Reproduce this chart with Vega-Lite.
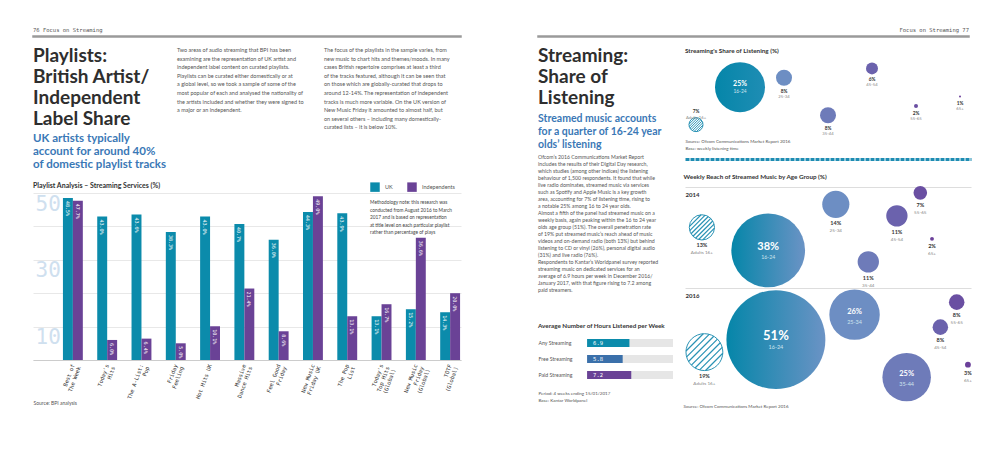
{
  "$schema": "https://vega.github.io/schema/vega-lite/v6.json",
  "background": "#ffffff",
  "padding": {"left": 32, "top": 26, "right": 0, "bottom": 0},
  "config": {
    "view": {"stroke": null},
    "font": "Lato",
    "title": {"anchor": "start", "color": "#333333", "fontWeight": "bold", "font": "Lato"},
    "axis": {"labelFont": "Lato", "titleFont": "Lato"}
  },
  "spacing": 75,
  "resolve": {"scale": {"x": "independent", "y": "independent", "color": "independent", "size": "independent", "yOffset": "independent"}, "legend": {"color": "independent", "size": "independent"}},
  "hconcat": [
    {
      "spacing": 8,
      "resolve": {"scale": {"x": "independent", "y": "independent", "color": "independent", "size": "independent", "yOffset": "independent"}, "legend": {"color": "independent", "size": "independent"}},
      "vconcat": [
        {
          "data": {"values": []},
          "width": 428,
          "height": 1,
          "view": {"stroke": "#9a9a9a", "strokeWidth": 1.5},
          "title": {"text": "76   Focus on Streaming", "font": "DejaVu Sans Mono", "fontSize": 5.5, "fontWeight": "normal", "color": "#555555", "offset": 3},
          "mark": {"type": "text"},
          "encoding": {"text": {"field": "t"}}
        },
        {
          "spacing": 11,
          "resolve": {"scale": {"x": "independent", "y": "independent", "color": "independent"}, "legend": {"color": "independent"}},
          "vconcat": [
            {
              "spacing": 10,
              "hconcat": [
                {
                  "data": {"values": []},
                  "width": 133,
                  "height": 1,
                  "title": {
                    "text": ["Playlists:", "British Artist/", "Independent", "Label Share"],
                    "orient": "bottom", "offset": 0,
                    "fontSize": 19, "lineHeight": 21, "color": "#2e2e2e", "fontWeight": "bold",
                    "subtitle": ["UK artists typically", "account for around 40%", "of domestic playlist tracks"],
                    "subtitleFont": "Lato", "subtitleFontSize": 11.5, "subtitleFontWeight": "bold",
                    "subtitleColor": "#3a78b6", "subtitleLineHeight": 13, "subtitlePadding": 4
                  },
                  "mark": {"type": "text"},
                  "encoding": {"text": {"field": "t"}}
                },
                {
                  "data": {"values": []},
                  "width": 137,
                  "height": 1,
                  "title": {
                    "text": [
                      "Two areas of audio streaming that BPI has been",
                      "examining are the representation of UK artist and",
                      "independent label content on curated playlists.",
                      "Playlists can be curated either domestically or at",
                      "a global level, so we took a sample of some of the",
                      "most popular of each and analysed the nationality of",
                      "the artists included and whether they were signed to",
                      "a major or an independent."
                    ],
                    "orient": "bottom", "offset": 1,
                    "fontSize": 5.5, "lineHeight": 8.6, "fontWeight": "normal", "color": "#555555"
                  },
                  "mark": {"type": "text"},
                  "encoding": {"text": {"field": "t"}}
                },
                {
                  "data": {"values": []},
                  "width": 138,
                  "height": 1,
                  "title": {
                    "text": [
                      "The focus of the playlists in the sample varies, from",
                      "new music to chart hits and themes/moods. In many",
                      "cases British repertoire comprises at least a third",
                      "of the tracks featured, although it can be seen that",
                      "on those which are globally-curated that drops to",
                      "around 12-14%. The representation of independent",
                      "tracks is much more variable. On the UK version of",
                      "New Music Friday it amounted to almost half, but",
                      "on several others – including many domestically-",
                      "curated lists – it is below 10%."
                    ],
                    "orient": "bottom", "offset": 1,
                    "fontSize": 5.5, "lineHeight": 8.6, "fontWeight": "normal", "color": "#555555"
                  },
                  "mark": {"type": "text"},
                  "encoding": {"text": {"field": "t"}}
                }
              ]
            },
            {
              "width": 428,
              "height": 167,
              "title": {"text": "Playlist Analysis – Streaming Services (%)", "fontSize": 7, "offset": -7},
              "data": {"values": [
                {"playlist": "Best of The Week", "series": "UK", "value": 0.485},
                {"playlist": "Best of The Week", "series": "Independents", "value": 0.477},
                {"playlist": "Today's Hits", "series": "UK", "value": 0.430},
                {"playlist": "Today's Hits", "series": "Independents", "value": 0.060},
                {"playlist": "The A-List: Pop", "series": "UK", "value": 0.436},
                {"playlist": "The A-List: Pop", "series": "Independents", "value": 0.064},
                {"playlist": "Friday Feeling", "series": "UK", "value": 0.383},
                {"playlist": "Friday Feeling", "series": "Independents", "value": 0.050},
                {"playlist": "Hot Hits UK", "series": "UK", "value": 0.430},
                {"playlist": "Hot Hits UK", "series": "Independents", "value": 0.101},
                {"playlist": "Massive Dance Hits", "series": "UK", "value": 0.407},
                {"playlist": "Massive Dance Hits", "series": "Independents", "value": 0.214},
                {"playlist": "Feel Good Friday", "series": "UK", "value": 0.360},
                {"playlist": "Feel Good Friday", "series": "Independents", "value": 0.086},
                {"playlist": "New Music Friday UK", "series": "UK", "value": 0.443},
                {"playlist": "New Music Friday UK", "series": "Independents", "value": 0.490},
                {"playlist": "The Pop List", "series": "UK", "value": 0.439},
                {"playlist": "The Pop List", "series": "Independents", "value": 0.131},
                {"playlist": "Today's Top Hits (Global)", "series": "UK", "value": 0.131},
                {"playlist": "Today's Top Hits (Global)", "series": "Independents", "value": 0.167},
                {"playlist": "New Music Friday (Global)", "series": "UK", "value": 0.152},
                {"playlist": "New Music Friday (Global)", "series": "Independents", "value": 0.366},
                {"playlist": "TOTF (Global)", "series": "UK", "value": 0.143},
                {"playlist": "TOTF (Global)", "series": "Independents", "value": 0.200}
              ]},
              "encoding": {
                "x": {
                  "field": "playlist", "type": "nominal", "sort": null,
                  "scale": {"paddingInner": 0.42, "paddingOuter": 0.45, "align": 0.97},
                  "axis": {
                    "title": "Source: BPI analysis",
                    "titleAnchor": "start", "titleAlign": "left", "titleX": 0, "titleY": 42, "titleBaseline": "middle",
                    "titleFontSize": 5, "titleFontWeight": "normal", "titleColor": "#555555",
                    "labelAngle": -70, "labelFont": "DejaVu Sans Mono", "labelFontSize": 5.5, "labelColor": "#333333",
                    "labelLineHeight": 6.5, "labelPadding": 4, "ticks": false, "domainColor": "#cccccc",
                    "labelExpr": "{'Best of The Week': ['Best of', 'The Week'], \"Today's Hits\": [\"Today's\", 'Hits'], 'The A-List: Pop': ['The A-List:', 'Pop'], 'Friday Feeling': ['Friday', 'Feeling'], 'Hot Hits UK': 'Hot Hits UK', 'Massive Dance Hits': ['Massive', 'Dance Hits'], 'Feel Good Friday': ['Feel Good', 'Friday'], 'New Music Friday UK': ['New Music', 'Friday UK'], 'The Pop List': ['The Pop', 'List'], \"Today's Top Hits (Global)\": [\"Today's\", 'Top Hits', '(Global)'], 'New Music Friday (Global)': ['New Music', 'Friday', '(Global)'], 'TOTF (Global)': ['TOTF', '(Global)']}[datum.label]"
                  }
                },
                "xOffset": {"field": "series", "type": "nominal", "sort": ["UK", "Independents"], "scale": {"paddingInner": 0}},
                "y": {
                  "field": "value", "type": "quantitative",
                  "scale": {"domain": [0, 0.5]},
                  "axis": {
                    "title": null, "values": [0, 0.1, 0.2, 0.3, 0.4, 0.5],
                    "grid": true, "gridColor": "#e8e8e8", "domain": false, "ticks": false,
                    "labelOverlap": false, "labelBound": false, "labelFlush": false,
                    "labelExpr": "datum.value == 0.1 || datum.value == 0.3 || datum.value == 0.5 ? format(datum.value * 100, 'd') : ''",
                    "labelAlign": "left", "labelBaseline": "top", "labelPadding": -2,
                    "labelFont": "DejaVu Sans Mono", "labelFontSize": 21, "labelColor": "#cfe0ef"
                  }
                }
              },
              "layer": [
                {
                  "mark": {"type": "bar"},
                  "encoding": {
                    "color": {
                      "field": "series", "type": "nominal",
                      "scale": {"domain": ["UK", "Independents"], "range": ["#0b8bab", "#6a4296"]},
                      "legend": {
                        "title": ["Methodology note: this research was", "conducted from August 2016 to March", "2017 and is based on representation", "at title level on each particular playlist", "rather than percentage of plays"],
                        "titleOrient": "bottom", "titleAnchor": "start", "titleFontSize": 4.8, "titleFontWeight": "normal", "titleColor": "#444444",
                        "titleLineHeight": 7.6, "titlePadding": 8, "titleLimit": 300, "titleFont": "Lato",
                        "orient": "none", "legendX": 337, "legendY": -11, "direction": "horizontal",
                        "symbolType": "square", "symbolSize": 90, "symbolStrokeWidth": 0, "labelFontSize": 5.5, "labelColor": "#555555", "columnPadding": 14, "labelOffset": 5
                      }
                    }
                  }
                },
                {
                  "mark": {"type": "text", "angle": 90, "align": "left", "baseline": "middle", "dx": 3, "font": "DejaVu Sans Mono", "fontSize": 5, "color": "#ffffff"},
                  "encoding": {
                    "text": {"field": "value", "type": "quantitative", "format": ".1%"}
                  }
                }
              ]
            }
          ]
        }
      ]
    },
    {
      "spacing": 8,
      "resolve": {"scale": {"x": "independent", "y": "independent", "color": "independent", "size": "independent", "yOffset": "independent"}, "legend": {"color": "independent", "size": "independent"}},
      "vconcat": [
        {
          "data": {"values": []},
          "width": 431,
          "height": 1,
          "view": {"stroke": "#9a9a9a", "strokeWidth": 1.5},
          "title": {"text": "Focus on Streaming   77", "anchor": "end", "font": "DejaVu Sans Mono", "fontSize": 5.5, "fontWeight": "normal", "color": "#555555", "offset": 3},
          "mark": {"type": "text"},
          "encoding": {"text": {"field": "t"}}
        },
        {
          "spacing": 10,
          "resolve": {"scale": {"x": "independent", "y": "independent", "color": "independent", "size": "independent", "yOffset": "independent"}, "legend": {"color": "independent", "size": "independent"}},
          "hconcat": [
            {
              "spacing": 14,
              "resolve": {"scale": {"x": "independent", "y": "independent", "color": "independent"}, "legend": {"color": "independent"}},
              "vconcat": [
                {
                  "spacing": 2,
                  "vconcat": [
                    {
                      "data": {"values": []},
                      "width": 135,
                      "height": 1,
                      "title": {
                        "text": ["Streaming:", "Share of", "Listening"],
                        "orient": "bottom", "offset": 0,
                        "fontSize": 19, "lineHeight": 21, "color": "#2e2e2e", "fontWeight": "bold",
                        "subtitle": ["Streamed music accounts", "for a quarter of 16-24 year", "olds’ listening"],
                        "subtitleFont": "Lato", "subtitleFontSize": 10.5, "subtitleFontWeight": "bold",
                        "subtitleColor": "#3a78b6", "subtitleLineHeight": 13, "subtitlePadding": 6
                      },
                      "mark": {"type": "text"},
                      "encoding": {"text": {"field": "t"}}
                    },
                    {
                      "data": {"values": []},
                      "width": 135,
                      "height": 1,
                      "title": {
                        "text": [
                          "Ofcom’s 2016 Communications Market Report",
                          "includes the results of their Digital Day research,",
                          "which studies (among other indices) the listening",
                          "behaviour of 1,500 respondents. It found that while",
                          "live radio dominates, streamed music via services",
                          "such as Spotify and Apple Music is a key growth",
                          "area, accounting for 7% of listening time, rising to",
                          "a notable 25% among 16 to 24 year olds.",
                          " ",
                          "Almost a fifth of the panel had streamed music on a",
                          "weekly basis, again peaking within the 16 to 24 year",
                          "olds age group (51%). The overall penetration rate",
                          "of 19% put streamed music’s reach ahead of music",
                          "videos and on-demand radio (both 13%) but behind",
                          "listening to CD or vinyl (26%), personal digital audio",
                          "(31%) and live radio (76%).",
                          " ",
                          "Respondents to Kantar’s Worldpanel survey reported",
                          "streaming music on dedicated services for an",
                          "average of 6.9 hours per week in December 2016/",
                          "January 2017, with that figure rising to 7.2 among",
                          "paid streamers."
                        ],
                        "orient": "bottom", "offset": 1,
                        "fontSize": 5.2, "lineHeight": 7.0, "fontWeight": "normal", "color": "#555555"
                      },
                      "mark": {"type": "text"},
                      "encoding": {"text": {"field": "t"}}
                    }
                  ]
                },
                {
                  "width": 135,
                  "height": 48,
                  "title": {"text": "Average Number of Hours Listened per Week", "fontSize": 6.3, "offset": 6},
                  "data": {"values": [
                    {"type": "Any Streaming", "hours": 6.9},
                    {"type": "Free Streaming", "hours": 5.8},
                    {"type": "Paid Streaming", "hours": 7.2}
                  ]},
                  "encoding": {
                    "y": {
                      "field": "type", "type": "nominal", "sort": null,
                      "scale": {"paddingInner": 0.5, "paddingOuter": 0.25},
                      "axis": {"title": null, "domain": false, "ticks": false, "labelAlign": "left", "labelPadding": 0, "labelFontSize": 5.2, "labelColor": "#555555"}
                    }
                  },
                  "layer": [
                    {
                      "mark": {"type": "bar", "color": "#e6e6e6"},
                      "encoding": {"x": {"datum": 14, "type": "quantitative", "scale": {"domain": [-6.04, 14]}, "axis": {
                        "labels": false, "ticks": false, "domain": false, "grid": false,
                        "title": ["Period: 4 weeks ending 15/01/2017", "Base: Kantar Worldpanel"],
                        "titleAnchor": "start", "titleAlign": "left", "titleX": 0, "titleY": 7, "titleBaseline": "top",
                        "titleFontSize": 4.5, "titleFontWeight": "normal", "titleColor": "#555555", "titleLineHeight": 7
                      }}}
                    },
                    {
                      "mark": {"type": "bar"},
                      "encoding": {
                        "x": {"field": "hours", "type": "quantitative"},
                        "color": {"field": "type", "type": "nominal", "scale": {"domain": ["Any Streaming", "Free Streaming", "Paid Streaming"], "range": ["#0b8bab", "#3b70aa", "#6a4296"]}, "legend": null}
                      }
                    },
                    {
                      "mark": {"type": "text", "align": "left", "dx": 6, "font": "DejaVu Sans Mono", "fontSize": 5.5, "color": "#ffffff"},
                      "encoding": {
                        "x": {"datum": 0, "type": "quantitative"},
                        "text": {"field": "hours", "type": "quantitative", "format": ".1f"}
                      }
                    }
                  ]
                }
              ]
            },
            {
              "spacing": 14,
              "resolve": {"scale": {"x": "independent", "y": "independent", "color": "independent", "size": "independent", "yOffset": "independent"}, "legend": {"color": "independent", "size": "independent"}},
              "vconcat": [
                {
                  "spacing": 4,
                  "vconcat": [
                    {
                      "data": {"values": []},
                      "width": 286,
                      "height": 1,
                      "title": {"text": "Streaming's Share of Listening (%)", "orient": "bottom", "offset": 1, "fontSize": 6.3},
                      "mark": {"type": "text"},
                      "encoding": {"text": {"field": "t"}}
                    },
                    {
                      "width": 286,
                      "height": 75,
                      "resolve": {"scale": {"yOffset": "independent"}},
                      "data": {"values": [
                        {"age": "Adults 16+", "value": 0.07},
                        {"age": "16-24", "value": 0.25},
                        {"age": "25-34", "value": 0.08},
                        {"age": "35-44", "value": 0.08},
                        {"age": "45-54", "value": 0.06},
                        {"age": "55-65", "value": 0.02},
                        {"age": "65+", "value": 0.01}
                      ]},
                      "encoding": {
                        "x": {
                          "field": "age", "type": "nominal",
                          "scale": {"type": "point", "domain": ["Adults 16+", "16-24", "25-34", "35-44", "45-54", "55-65", "65+"], "padding": 0.25},
                          "axis": {
                            "orient": "bottom", "offset": 25, "labels": false, "ticks": false, "grid": false,
                            "domainColor": "#1e8db3", "domainWidth": 3, "domainDash": [4, 1],
                            "title": ["Source: Ofcom Communications Market Report 2016", "Base: weekly listening time"],
                            "titleAnchor": "start", "titleAlign": "left", "titleX": 0, "titleY": -21, "titleBaseline": "top",
                            "titleFontSize": 4.5, "titleFontWeight": "normal", "titleColor": "#555555", "titleLineHeight": 7
                          }
                        },
                        "y": {
                          "field": "age", "type": "nominal",
                          "scale": {"type": "point", "domain": ["45-54", "25-34", "16-24", "65+", "55-65", "35-44", "Adults 16+"], "padding": 2.3, "align": 0.5},
                          "axis": null
                        }
                      },
                      "layer": [
                        {
                          "transform": [{"filter": "datum.age != 'Adults 16+' && datum.age != '16-24'"}],
                          "mark": {"type": "point", "filled": true, "opacity": 1, "strokeWidth": 0},
                          "encoding": {
                            "size": {"field": "value", "type": "quantitative", "scale": {"type": "pow", "exponent": 2, "domain": [0, 0.25], "range": [0, 2500]}, "legend": null},
                            "color": {"field": "age", "type": "nominal", "scale": {"domain": ["Adults 16+", "16-24", "25-34", "35-44", "45-54", "55-65", "65+"], "range": ["#ffffff", "#1589ad", "#6d8ec3", "#6e7bb9", "#6b62ad", "#6a4fa2", "#6b409a"]}, "legend": null}
                          }
                        },
                        {
                          "transform": [{"filter": "datum.age == '16-24'"}],
                          "mark": {"type": "point", "filled": true, "opacity": 1, "strokeWidth": 0, "fill": {"gradient": "linear", "stops": [{"offset": 0, "color": "#0586a9"}, {"offset": 1, "color": "#1f8db4"}]}},
                          "encoding": {
                            "size": {"field": "value", "type": "quantitative", "scale": {"type": "pow", "exponent": 2, "domain": [0, 0.25], "range": [0, 2500]}, "legend": null}
                          }
                        },
                        {
                          "transform": [{"filter": "datum.age == 'Adults 16+'"}],
                          "mark": {"type": "point", "filled": true, "opacity": 1, "fill": "#ffffff", "stroke": "#2a93b5", "strokeWidth": 1},
                          "encoding": {
                            "size": {"field": "value", "type": "quantitative", "scale": {"type": "pow", "exponent": 2, "domain": [0, 0.25], "range": [0, 2500]}, "legend": null}
                          }
                        },
                        {
                          "transform": [{"filter": "datum.age == 'Adults 16+'"}],
                          "mark": {"type": "point", "filled": false, "opacity": 1, "color": "#2a93b5", "strokeWidth": 1,
                            "shape": "M-0.707,0.707L0.707,-0.707M-0.508,0.862L0.862,-0.508M-0.862,0.508L0.508,-0.862M-0.258,0.966L0.966,-0.258M-0.966,0.258L0.258,-0.966M0.062,0.998L0.998,0.062M-0.998,-0.062L-0.062,-0.998"},
                          "encoding": {
                            "size": {"field": "value", "type": "quantitative", "scale": {"type": "pow", "exponent": 2, "domain": [0, 0.25], "range": [0, 2500]}, "legend": null}
                          }
                        },
                        {
                          "transform": [{"filter": "datum.value >= 0.2 && datum.age != 'Adults 16+'"}],
                          "mark": {"type": "text", "fontWeight": "bold", "fontSize": 7, "color": "#ffffff", "dy": -3},
                          "encoding": {"text": {"field": "value", "type": "quantitative", "format": ".0%"}}
                        },
                        {
                          "transform": [{"filter": "datum.value >= 0.2 && datum.age != 'Adults 16+'"}],
                          "mark": {"type": "text", "fontSize": 4.8, "color": "#cfe4ee", "dy": 5},
                          "encoding": {"text": {"field": "age"}}
                        },
                        {
                          "transform": [{"filter": "datum.value < 0.2 && datum.age != 'Adults 16+'"}],
                          "mark": {"type": "text", "fontWeight": "bold", "fontSize": 4.8, "color": "#333333", "baseline": "top"},
                          "encoding": {
                            "yOffset": {"field": "value", "type": "quantitative", "scale": {"domain": [0, 0.25], "range": [3, 28]}},
                            "text": {"field": "value", "type": "quantitative", "format": ".0%"}
                          }
                        },
                        {
                          "transform": [{"filter": "datum.value < 0.2 && datum.age != 'Adults 16+'"}],
                          "mark": {"type": "text", "fontSize": 4.2, "color": "#888888", "baseline": "top", "dy": 6},
                          "encoding": {
                            "yOffset": {"field": "value", "type": "quantitative", "scale": {"domain": [0, 0.25], "range": [3, 28]}},
                            "text": {"field": "age"}
                          }
                        },
                        {
                          "transform": [{"filter": "datum.age == 'Adults 16+'"}],
                          "mark": {"type": "text", "fontWeight": "bold", "fontSize": 4.8, "color": "#333333", "baseline": "bottom", "dy": -11},
                          "encoding": {
                            "text": {"field": "value", "type": "quantitative", "format": ".0%"}
                          }
                        },
                        {
                          "transform": [{"filter": "datum.age == 'Adults 16+'"}],
                          "mark": {"type": "text", "fontSize": 4.2, "color": "#888888", "baseline": "bottom", "dy": -5},
                          "encoding": {
                            "text": {"field": "age"}
                          }
                        }
                      ]
                    }
                  ]
                },
                {
                  "title": {"text": "Weekly Reach of Streamed Music by Age Group (%)", "fontSize": 6.3, "offset": 6},
                  "data": {"values": [
                    {"year": "2014", "age": "Adults 16+", "value": 0.13},
                    {"year": "2014", "age": "16-24", "value": 0.38},
                    {"year": "2014", "age": "25-34", "value": 0.14},
                    {"year": "2014", "age": "35-44", "value": 0.11},
                    {"year": "2014", "age": "45-54", "value": 0.11},
                    {"year": "2014", "age": "55-65", "value": 0.07},
                    {"year": "2014", "age": "65+", "value": 0.02},
                    {"year": "2016", "age": "Adults 16+", "value": 0.19},
                    {"year": "2016", "age": "16-24", "value": 0.51},
                    {"year": "2016", "age": "25-34", "value": 0.26},
                    {"year": "2016", "age": "35-44", "value": 0.25},
                    {"year": "2016", "age": "45-54", "value": 0.08},
                    {"year": "2016", "age": "55-65", "value": 0.08},
                    {"year": "2016", "age": "65+", "value": 0.03}
                  ]},
                  "transform": [{"stack": "value", "groupby": ["year"], "as": ["x0", "x1"]}],
                  "resolve": {"scale": {"x": "independent", "y": "independent", "color": "independent", "size": "independent", "yOffset": "independent"}, "legend": {"color": "independent", "size": "independent"}},
                  "spacing": -11,
                  "vconcat": [
                    {
                      "width": 286,
                      "height": 92,
                      "transform": [{"filter": "datum.year == '2014'"}],
                      "encoding": {
                        "y": {
                          "field": "age", "type": "nominal",
                          "scale": {"type": "point", "domain": ["55-65", "25-34", "45-54", "Adults 16+", "65+", "16-24", "35-44"], "padding": 3.13, "align": 0.255},
                          "axis": null
                        }
                      },
                      "layer": [
                        {
                          "transform": [{"filter": "datum.age != 'Adults 16+' && datum.age != '16-24'"}],
                          "mark": {"type": "point", "filled": true, "opacity": 1, "strokeWidth": 0},
                          "encoding": {
                            "x": {
                              "field": "x0", "type": "quantitative", "bin": "binned", "bandPosition": 0.5,
                              "scale": {"domain": [0, 1.04]},
                              "axis": {
                                "orient": "top", "labels": false, "ticks": false, "grid": false, "domainColor": "#dddddd", "domainWidth": 1,
                                "title": "2014", "titleAnchor": "start", "titleAlign": "left", "titleX": 0, "titleY": 4, "titleBaseline": "top",
                                "titleFontSize": 6, "titleColor": "#333333"
                              }
                            },
                            "x2": {"field": "x1"},
                            "size": {"field": "value", "type": "quantitative", "scale": {"type": "pow", "exponent": 2, "domain": [0, 0.51], "range": [0, 9788]}, "legend": null},
                            "color": {"field": "age", "type": "nominal", "scale": {"domain": ["Adults 16+", "16-24", "25-34", "35-44", "45-54", "55-65", "65+"], "range": ["#ffffff", "#1589ad", "#6d8ec3", "#6e7bb9", "#6b62ad", "#6a4fa2", "#6b409a"]}, "legend": null}
                          }
                        },
                        {
                          "transform": [{"filter": "datum.age == '16-24'"}],
                          "mark": {"type": "point", "filled": true, "opacity": 1, "strokeWidth": 0, "fill": {"gradient": "linear", "stops": [{"offset": 0, "color": "#0586a9"}, {"offset": 1, "color": "#6b93c5"}]}},
                          "encoding": {
                            "x": {"field": "x0", "type": "quantitative", "bin": "binned", "bandPosition": 0.5},
                            "x2": {"field": "x1"},
                            "size": {"field": "value", "type": "quantitative", "scale": {"type": "pow", "exponent": 2, "domain": [0, 0.51], "range": [0, 9788]}, "legend": null}
                          }
                        },
                        {
                          "transform": [{"filter": "datum.age == 'Adults 16+'"}],
                          "mark": {"type": "point", "filled": true, "opacity": 1, "fill": "#ffffff", "stroke": "#2a93b5", "strokeWidth": 1},
                          "encoding": {
                            "x": {"field": "x0", "type": "quantitative", "bin": "binned", "bandPosition": 0.5},
                            "x2": {"field": "x1"},
                            "size": {"field": "value", "type": "quantitative", "scale": {"type": "pow", "exponent": 2, "domain": [0, 0.51], "range": [0, 9788]}, "legend": null}
                          }
                        },
                        {
                          "transform": [{"filter": "datum.age == 'Adults 16+'"}],
                          "mark": {"type": "point", "filled": false, "opacity": 1, "color": "#2a93b5", "strokeWidth": 1.2,
                            "shape": "M-0.707,0.707L0.707,-0.707M-0.508,0.862L0.862,-0.508M-0.862,0.508L0.508,-0.862M-0.258,0.966L0.966,-0.258M-0.966,0.258L0.258,-0.966M0.062,0.998L0.998,0.062M-0.998,-0.062L-0.062,-0.998"},
                          "encoding": {
                            "x": {"field": "x0", "type": "quantitative", "bin": "binned", "bandPosition": 0.5},
                            "x2": {"field": "x1"},
                            "size": {"field": "value", "type": "quantitative", "scale": {"type": "pow", "exponent": 2, "domain": [0, 0.51], "range": [0, 9788]}, "legend": null}
                          }
                        },
                        {
                          "transform": [{"filter": "datum.value >= 0.2 && datum.age != 'Adults 16+'"}, {"fold": ["x0", "x1"], "as": ["edge", "pos"]}],
                          "mark": {"type": "text", "fontWeight": "bold", "fontSize": 11, "color": "#ffffff", "dy": -3},
                          "encoding": {
                            "x": {"aggregate": "mean", "field": "pos", "type": "quantitative"},
                            "text": {"field": "value", "type": "quantitative", "format": ".0%"}
                          }
                        },
                        {
                          "transform": [{"filter": "datum.value >= 0.2 && datum.age != 'Adults 16+'"}, {"fold": ["x0", "x1"], "as": ["edge", "pos"]}],
                          "mark": {"type": "text", "fontSize": 5.2, "color": "#cfe4ee", "dy": 7},
                          "encoding": {
                            "x": {"aggregate": "mean", "field": "pos", "type": "quantitative"},
                            "text": {"field": "age"}
                          }
                        },
                        {
                          "transform": [{"filter": "datum.value < 0.2 || datum.age == 'Adults 16+'"}, {"fold": ["x0", "x1"], "as": ["edge", "pos"]}],
                          "mark": {"type": "text", "fontWeight": "bold", "fontSize": 5.5, "color": "#333333", "baseline": "top"},
                          "encoding": {
                            "x": {"aggregate": "mean", "field": "pos", "type": "quantitative"},
                            "yOffset": {"field": "value", "type": "quantitative", "scale": {"domain": [0, 0.51], "range": [3, 52.5]}},
                            "text": {"field": "value", "type": "quantitative", "format": ".0%"}
                          }
                        },
                        {
                          "transform": [{"filter": "datum.value < 0.2 || datum.age == 'Adults 16+'"}, {"fold": ["x0", "x1"], "as": ["edge", "pos"]}],
                          "mark": {"type": "text", "fontSize": 4.6, "color": "#888888", "baseline": "top", "dy": 7},
                          "encoding": {
                            "x": {"aggregate": "mean", "field": "pos", "type": "quantitative"},
                            "yOffset": {"field": "value", "type": "quantitative", "scale": {"domain": [0, 0.51], "range": [3, 52.5]}},
                            "text": {"field": "age"}
                          }
                        }
                      ]
                    },
                    {
                      "width": 286,
                      "height": 100,
                      "title": {"text": "Source: Ofcom Communications Market Report 2016", "orient": "bottom", "anchor": "start", "fontSize": 4.5, "fontWeight": "normal", "color": "#555555", "offset": 3},
                      "transform": [{"filter": "datum.year == '2016'"}],
                      "encoding": {
                        "y": {
                          "field": "age", "type": "nominal",
                          "scale": {"type": "point", "domain": ["55-65", "25-34", "45-54", "16-24", "Adults 16+", "65+", "35-44"], "padding": 2.56, "align": 0.565},
                          "axis": null
                        }
                      },
                      "layer": [
                        {
                          "transform": [{"filter": "datum.age != 'Adults 16+' && datum.age != '16-24'"}],
                          "mark": {"type": "point", "filled": true, "opacity": 1, "strokeWidth": 0},
                          "encoding": {
                            "x": {
                              "field": "x0", "type": "quantitative", "bin": "binned", "bandPosition": 0.5,
                              "scale": {"domain": [0, 1.4]},
                              "axis": {
                                "orient": "top", "labels": false, "ticks": false, "grid": false, "domainColor": "#dddddd", "domainWidth": 1,
                                "title": "2016", "titleAnchor": "start", "titleAlign": "left", "titleX": 0, "titleY": 4, "titleBaseline": "top",
                                "titleFontSize": 6, "titleColor": "#333333"
                              }
                            },
                            "x2": {"field": "x1"},
                            "size": {"field": "value", "type": "quantitative", "scale": {"type": "pow", "exponent": 2, "domain": [0, 0.51], "range": [0, 9788]}, "legend": null},
                            "color": {"field": "age", "type": "nominal", "scale": {"domain": ["Adults 16+", "16-24", "25-34", "35-44", "45-54", "55-65", "65+"], "range": ["#ffffff", "#1589ad", "#6d8ec3", "#6e7bb9", "#6b62ad", "#6a4fa2", "#6b409a"]}, "legend": null}
                          }
                        },
                        {
                          "transform": [{"filter": "datum.age == '16-24'"}],
                          "mark": {"type": "point", "filled": true, "opacity": 1, "strokeWidth": 0, "fill": {"gradient": "linear", "stops": [{"offset": 0, "color": "#0586a9"}, {"offset": 1, "color": "#6b93c5"}]}},
                          "encoding": {
                            "x": {"field": "x0", "type": "quantitative", "bin": "binned", "bandPosition": 0.5},
                            "x2": {"field": "x1"},
                            "size": {"field": "value", "type": "quantitative", "scale": {"type": "pow", "exponent": 2, "domain": [0, 0.51], "range": [0, 9788]}, "legend": null}
                          }
                        },
                        {
                          "transform": [{"filter": "datum.age == 'Adults 16+'"}],
                          "mark": {"type": "point", "filled": true, "opacity": 1, "fill": "#ffffff", "stroke": "#2a93b5", "strokeWidth": 1},
                          "encoding": {
                            "x": {"field": "x0", "type": "quantitative", "bin": "binned", "bandPosition": 0.5},
                            "x2": {"field": "x1"},
                            "size": {"field": "value", "type": "quantitative", "scale": {"type": "pow", "exponent": 2, "domain": [0, 0.51], "range": [0, 9788]}, "legend": null}
                          }
                        },
                        {
                          "transform": [{"filter": "datum.age == 'Adults 16+'"}],
                          "mark": {"type": "point", "filled": false, "opacity": 1, "color": "#2a93b5", "strokeWidth": 1.2,
                            "shape": "M-0.707,0.707L0.707,-0.707M-0.508,0.862L0.862,-0.508M-0.862,0.508L0.508,-0.862M-0.258,0.966L0.966,-0.258M-0.966,0.258L0.258,-0.966M0.062,0.998L0.998,0.062M-0.998,-0.062L-0.062,-0.998"},
                          "encoding": {
                            "x": {"field": "x0", "type": "quantitative", "bin": "binned", "bandPosition": 0.5},
                            "x2": {"field": "x1"},
                            "size": {"field": "value", "type": "quantitative", "scale": {"type": "pow", "exponent": 2, "domain": [0, 0.51], "range": [0, 9788]}, "legend": null}
                          }
                        },
                        {
                          "transform": [{"filter": "datum.value >= 0.4 && datum.age != 'Adults 16+'"}, {"fold": ["x0", "x1"], "as": ["edge", "pos"]}],
                          "mark": {"type": "text", "fontWeight": "bold", "fontSize": 13, "color": "#ffffff", "dy": -4},
                          "encoding": {
                            "x": {"aggregate": "mean", "field": "pos", "type": "quantitative"},
                            "text": {"field": "value", "type": "quantitative", "format": ".0%"}
                          }
                        },
                        {
                          "transform": [{"filter": "datum.value >= 0.2 && datum.value < 0.4 && datum.age != 'Adults 16+'"}, {"fold": ["x0", "x1"], "as": ["edge", "pos"]}],
                          "mark": {"type": "text", "fontWeight": "bold", "fontSize": 7.5, "color": "#ffffff", "dy": -3},
                          "encoding": {
                            "x": {"aggregate": "mean", "field": "pos", "type": "quantitative"},
                            "text": {"field": "value", "type": "quantitative", "format": ".0%"}
                          }
                        },
                        {
                          "transform": [{"filter": "datum.value >= 0.2 && datum.age != 'Adults 16+'"}, {"fold": ["x0", "x1"], "as": ["edge", "pos"]}],
                          "mark": {"type": "text", "fontSize": 5.5, "color": "#cfe4ee", "dy": 7},
                          "encoding": {
                            "x": {"aggregate": "mean", "field": "pos", "type": "quantitative"},
                            "text": {"field": "age"}
                          }
                        },
                        {
                          "transform": [{"filter": "datum.value < 0.2 || datum.age == 'Adults 16+'"}, {"fold": ["x0", "x1"], "as": ["edge", "pos"]}],
                          "mark": {"type": "text", "fontWeight": "bold", "fontSize": 5.5, "color": "#333333", "baseline": "top"},
                          "encoding": {
                            "x": {"aggregate": "mean", "field": "pos", "type": "quantitative"},
                            "yOffset": {"field": "value", "type": "quantitative", "scale": {"domain": [0, 0.51], "range": [3, 52.5]}},
                            "text": {"field": "value", "type": "quantitative", "format": ".0%"}
                          }
                        },
                        {
                          "transform": [{"filter": "datum.value < 0.2 || datum.age == 'Adults 16+'"}, {"fold": ["x0", "x1"], "as": ["edge", "pos"]}],
                          "mark": {"type": "text", "fontSize": 4.6, "color": "#888888", "baseline": "top", "dy": 7},
                          "encoding": {
                            "x": {"aggregate": "mean", "field": "pos", "type": "quantitative"},
                            "yOffset": {"field": "value", "type": "quantitative", "scale": {"domain": [0, 0.51], "range": [3, 52.5]}},
                            "text": {"field": "age"}
                          }
                        }
                      ]
                    }
                  ]
                }
              ]
            }
          ]
        }
      ]
    }
  ]
}
